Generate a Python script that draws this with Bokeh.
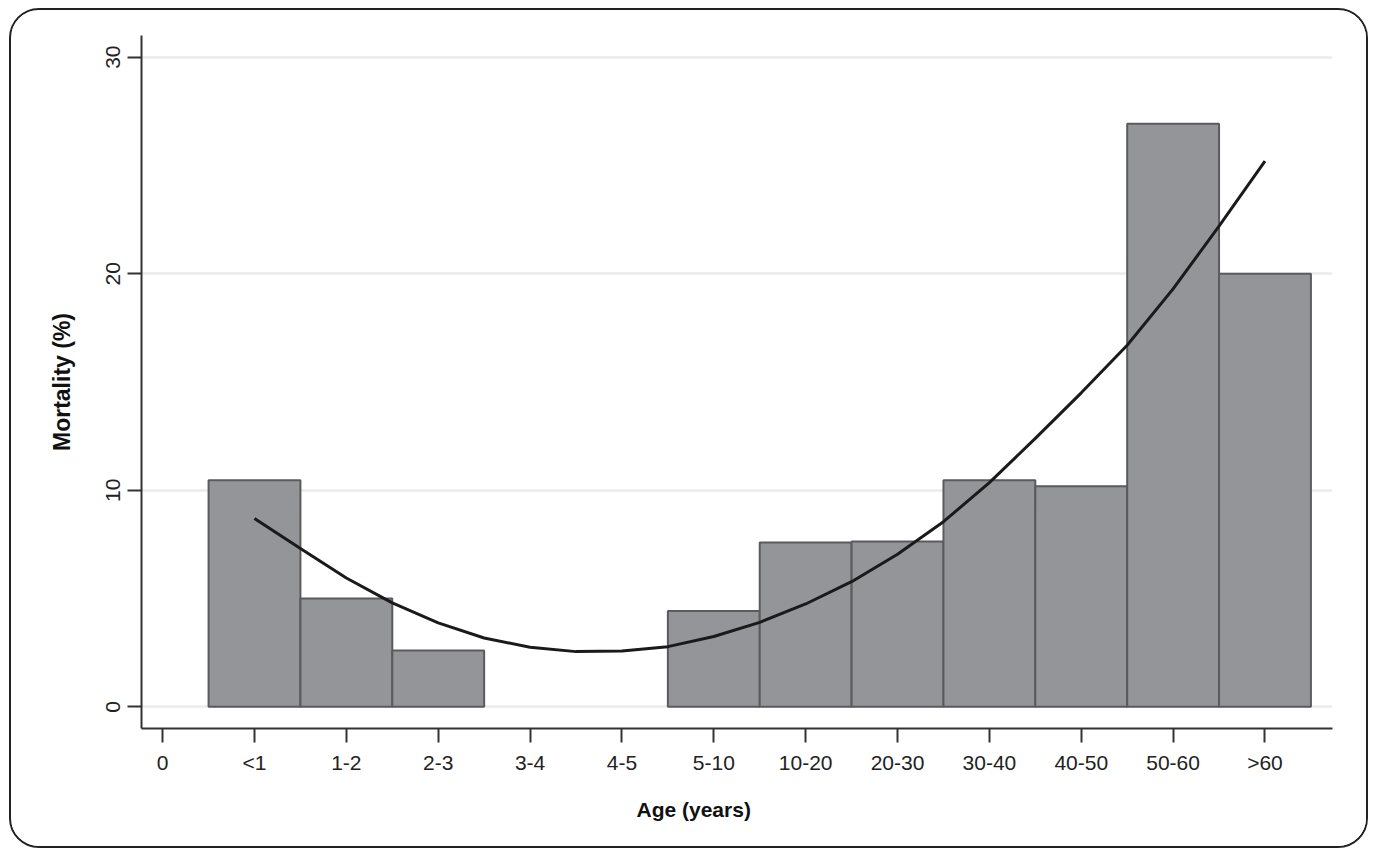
from bokeh.plotting import figure
from bokeh.models import Range1d, FixedTicker, Title
from bokeh.embed import file_html
from bokeh.resources import INLINE

# ---- data ----
categories = ["0", "<1", "1-2", "2-3", "3-4", "4-5", "5-10", "10-20", "20-30", "30-40", "40-50", "50-60", ">60"]
mortality = [None, 10.46, 5.0, 2.60, 0.0, 0.0, 4.43, 7.59, 7.63, 10.46, 10.19, 26.92, 20.0]
fit_x = [1, 1.5, 2, 2.5, 3, 3.5, 4, 4.5, 5, 5.5, 6, 6.5, 7, 7.5, 8, 8.5, 9, 9.5, 10, 10.5, 11, 11.5, 12]
fit_y = [8.70, 7.31, 5.95, 4.80, 3.88, 3.18, 2.75, 2.55, 2.58, 2.78, 3.25, 3.90, 4.75, 5.78, 7.05, 8.55,
         10.35, 12.4, 14.5, 16.7, 19.3, 22.2, 25.2]
y_ticks = [0, 10, 20, 30]

FONT = "Liberation Sans"

p = figure(width=1355, height=836, output_backend="svg", toolbar_location=None,
           x_range=Range1d(-0.23, 12.735), y_range=Range1d(-1.0, 31.0),
           min_border_left=130, min_border_right=38, min_border_top=25, min_border_bottom=122)
p.outline_line_color = None
p.background_fill_color = "white"
p.border_fill_color = "white"
p.styles = {"box-sizing": "content-box", "margin": "8px 0px 0px 9px",
            "border": "2.5px solid #222222", "border-radius": "30px", "overflow": "hidden"}

# bars (skip zero-height categories)
bx = [i for i, v in enumerate(mortality) if v]
bt = [v for v in mortality if v]
p.vbar(x=bx, top=bt, bottom=0, width=1.0, fill_color="#949599",
       line_color="#5b5b5e", line_width=2)

# fitted curve
p.line(fit_x, fit_y, line_color="#1a1a1a", line_width=3, line_join="round")

# grid
p.xgrid.visible = False
p.ygrid.ticker = FixedTicker(ticks=y_ticks)
p.ygrid.grid_line_color = "#ebebeb"
p.ygrid.grid_line_width = 2.5
p.ygrid.level = "underlay"

# x axis
xa = p.xaxis[0]
xa.ticker = FixedTicker(ticks=list(range(len(categories))))
xa.major_label_overrides = {i: c for i, c in enumerate(categories)}
xa.axis_line_color = "#333333"
xa.axis_line_width = 2
xa.major_tick_line_color = "#333333"
xa.major_tick_line_width = 2
xa.major_tick_out = 14
xa.major_tick_in = 0
xa.minor_tick_line_color = None
xa.major_label_text_font = FONT
xa.major_label_text_font_size = "21px"
xa.major_label_text_color = "#222222"
xa.major_label_standoff = 8

# y axis
ya = p.yaxis[0]
ya.ticker = FixedTicker(ticks=y_ticks)
ya.axis_line_color = "#333333"
ya.axis_line_width = 2
ya.major_tick_line_color = "#333333"
ya.major_tick_line_width = 2
ya.major_tick_out = 14
ya.major_tick_in = 0
ya.minor_tick_line_color = None
ya.major_label_orientation = "vertical"
ya.major_label_text_font = FONT
ya.major_label_text_font_size = "21px"
ya.major_label_text_color = "#222222"
ya.major_label_standoff = 8
ya.axis_label = "Mortality (%)"
ya.axis_label_text_font = FONT
ya.axis_label_text_font_style = "bold"
ya.axis_label_text_font_size = "23px"
ya.axis_label_text_color = "#111111"
ya.axis_label_standoff = 28

# x axis title, placed to be centred on the whole graph box
p.add_layout(Title(text="Age (years)", align="left", offset=495, standoff=38,
                   text_font=FONT, text_font_style="bold", text_font_size="21px",
                   text_color="#111111"), "below")

open("out.html", "w").write(file_html(p, INLINE))
